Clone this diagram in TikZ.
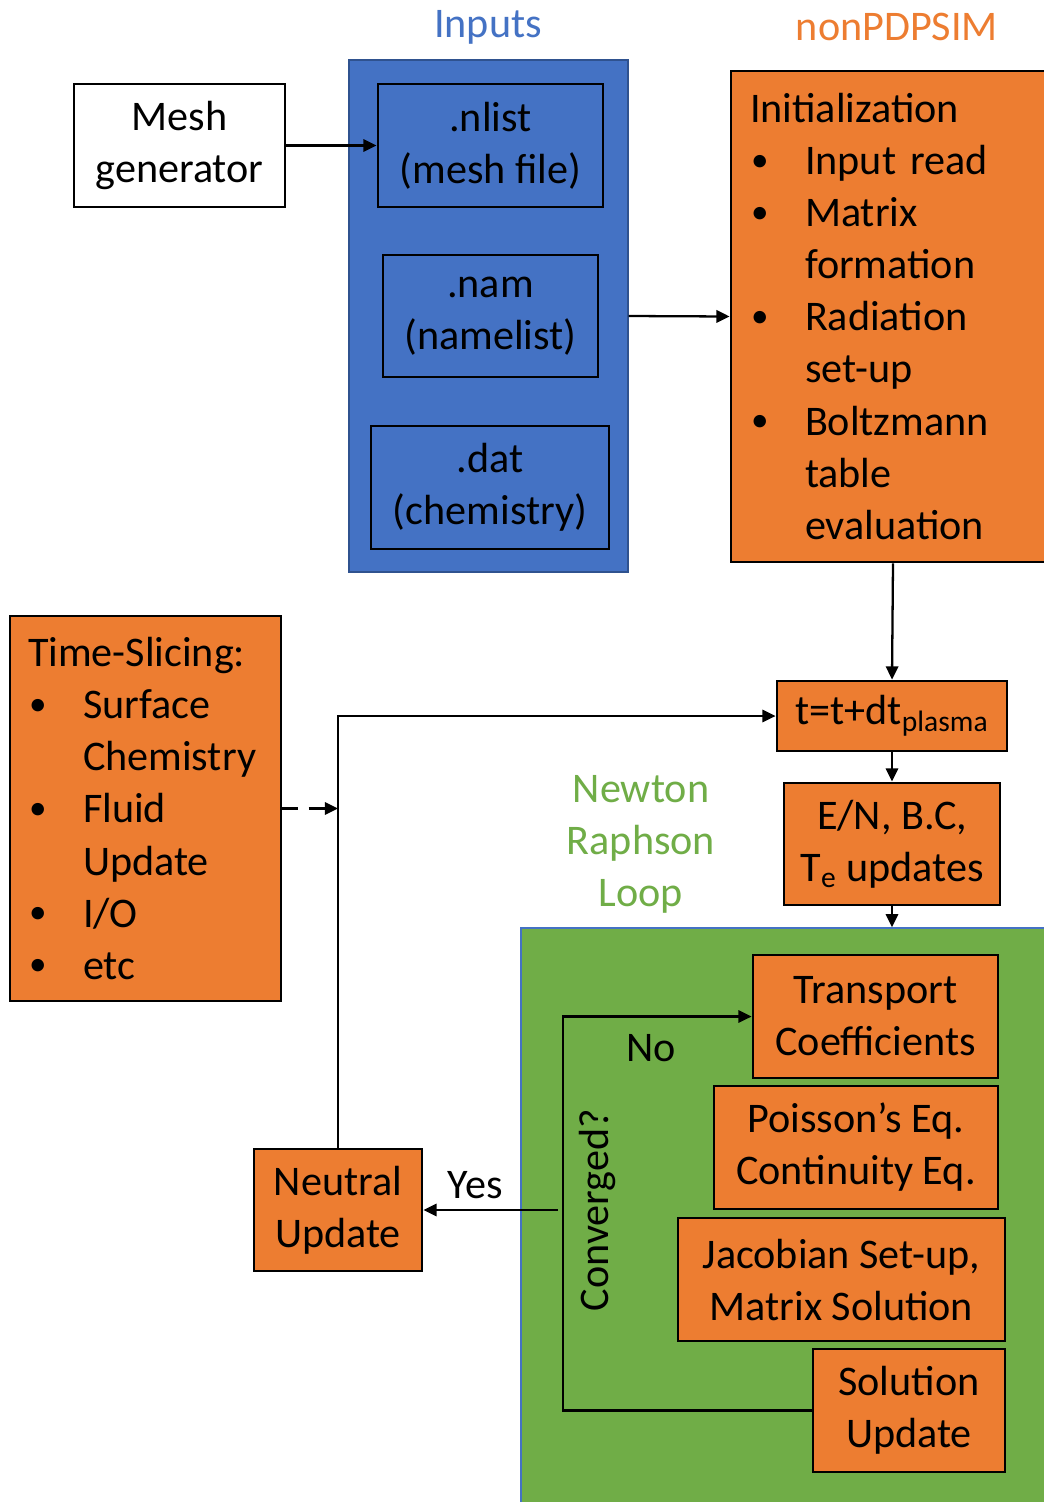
\documentclass[tikz,border=0pt]{standalone}
\usepackage{fontspec}
\setmainfont{Carlito}
\usetikzlibrary{arrows.meta}
\definecolor{obox}{RGB}{237,125,49}
\definecolor{bbox}{RGB}{68,114,196}
\definecolor{gbox}{RGB}{112,173,71}
\definecolor{bline}{RGB}{47,82,143}
\newcommand\itm{\makebox[1.1cm][l]{\hspace{0.02cm}\raisebox{0.15ex}{\fontsize{20}{20}\selectfont\textbullet}}}
\newcommand\cnt{\hspace*{1.1cm}}
\begin{document}
\begin{tikzpicture}[x=0.02cm,y=-0.02cm,
		every node/.style={font=\fontsize{24}{29.6}\selectfont},
		blk/.style={draw=black,line width=1.6pt,align=center,inner sep=2pt},
		org/.style={blk,fill=obox},
		arr/.style={line width=1.3pt,-{Triangle[length=7.5pt,width=7pt]}}]
	\clip(0,0)rectangle(1044,1502);
	\fill[white](0,0)rectangle(1044,1502);
	\node[fill=bbox,draw=bline,line width=0.8pt,minimum width=5.58cm,minimum height=10.24cm](inp)at(488.5,316){};
	\node[fill=gbox,draw=bbox,line width=0.8pt,minimum width=14.88cm,minimum height=11.84cm](loop)at(893,1224){};
	\node[text=bbox](intitle)at(488,27){Inputs};
	\node[text=obox](nptitle)at(897,27){nonPDPSIM};
	\node[text=gbox,align=center](nrtitle)at(641,844){Newton\\Raphson\\Loop};
	\node[blk,fill=white,minimum width=4.22cm,minimum height=2.46cm](mesh)at(179.5,145.5){Mesh\\generator};
	\node[blk,fill=bbox,minimum width=4.5cm,minimum height=2.46cm](nlist)at(490.5,145.5){.nlist\\(mesh file)};
	\node[blk,fill=bbox,minimum width=4.3cm,minimum height=2.44cm](nam)at(490.5,316){.nam\\(namelist)};
	\node[blk,fill=bbox,minimum width=4.76cm,minimum height=2.46cm](dat)at(490,487.5){.dat\\(chemistry)};
	\node[org,align=left,minimum height=9.82cm,text width=5.72cm,inner xsep=0.38cm](init)at(893,316.5){%
		Initialization\\\itm Input read\\\itm Matrix\\\cnt formation\\\itm Radiation\\\cnt set-up\\%
		\itm Boltzmann\\\cnt table\\\cnt evaluation};
	\node[org,minimum width=4.6cm,minimum height=1.4cm](tstep)at(892,716){t=t+dt\textsubscript{plasma}};
	\node[org,minimum width=4.32cm,minimum height=2.44cm](upd)at(892,844){E/N, B.C,\\T\textsubscript{e} updates};
	\node[org,align=left,minimum height=7.7cm,text width=4.7cm,inner xsep=0.36cm](tslice)at(145.5,808.5){%
		Time-Slicing:\\\itm Surface\\\cnt Chemistry\\\itm Fluid\\\cnt Update\\\itm I/O\\\itm etc};
	\node[org,minimum width=4.9cm,minimum height=2.46cm](trans)at(875.5,1016.5){Transport\\Coefficients};
	\node[org,minimum width=5.68cm,minimum height=2.46cm](poiss)at(856,1147.5){Poisson’s Eq.\\Continuity Eq.};
	\node[org,minimum width=6.54cm,minimum height=2.46cm](jac)at(841.5,1279.5){Jacobian Set-up,\\Matrix Solution};
	\node[org,minimum width=3.84cm,minimum height=2.46cm](sol)at(909,1410.5){Solution\\Update};
	\node[org,minimum width=3.36cm,minimum height=2.44cm](neut)at(338,1210){Neutral\\Update};
	\node[rotate=90](conv)at(597,1210){Converged?};
	\node(no)at(651,1048){No};
	\node(yes)at(475,1185){Yes};
	\coordinate(bend)at(563,1200);
	\coordinate(yesend)at(558,1210);
	\draw[arr](mesh)--(nlist);
	\draw[arr](inp.east)--(init.west);
	\draw[arr](init.south)--(tstep.north);
	\draw[arr](tstep)--(upd);
	\draw[arr](upd.south)--(upd.south|-loop.north);
	\draw[arr](sol.west)-|(bend)|-(trans.west);
	\draw[arr](yesend)--(neut.east);
	\draw[arr](neut.north)|-(tstep.west);
	\draw[arr,dashed,dash pattern=on 9pt off 6pt](tslice.east)--(tslice.east-|neut.north);
\end{tikzpicture}
\end{document}
